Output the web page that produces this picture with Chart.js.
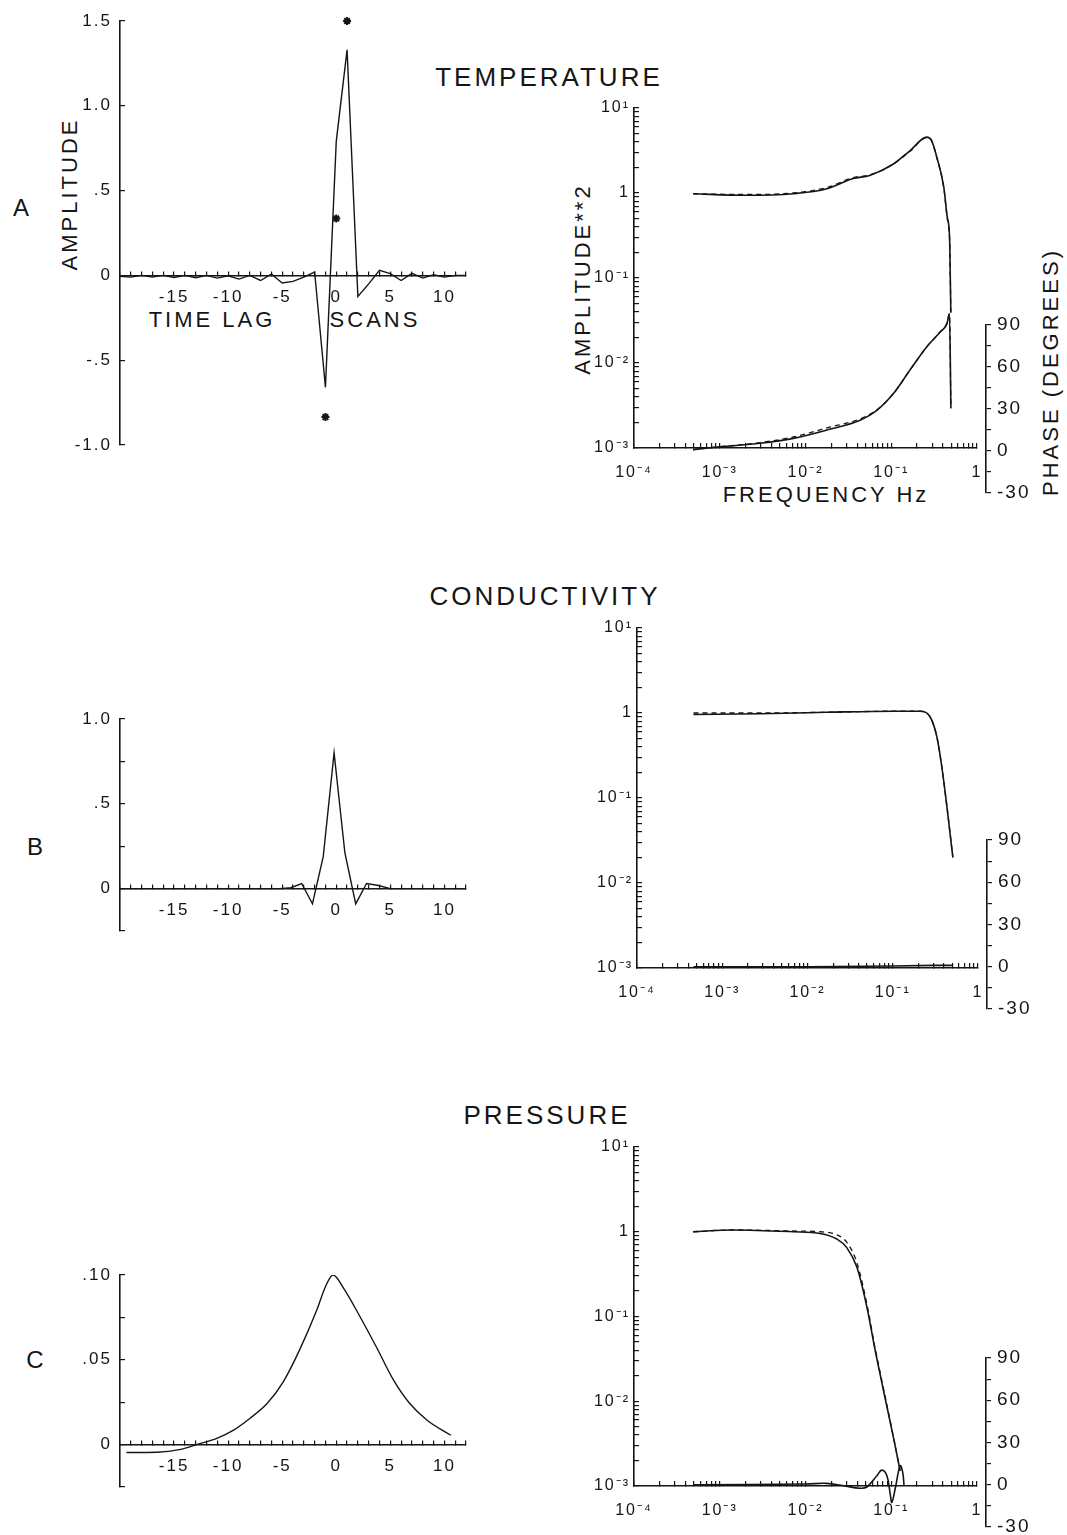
<!DOCTYPE html>
<html lang="en">
<head>
<meta charset="UTF-8">
<title>Temperature, conductivity and pressure responses</title>
<script src="https://cdn.jsdelivr.net/npm/chart.js"></script>
<style>
  html, body { margin: 0; padding: 0; background: #fff; }
  body {
    width: 1067px; height: 1535px; position: relative; overflow: hidden;
    font-family: 'Liberation Sans', Arial, sans-serif; color: #151515;
  }
  canvas { position: absolute; }
  .lbl { position: absolute; white-space: nowrap; line-height: 1; letter-spacing: 3px; }
  .title { font-size: 26px; transform: translate(-50%, -50%); }
  .axt { font-size: 22px; transform: translate(-50%, -50%); }
  .rot { transform: translate(-50%, -50%) rotate(-90deg); }
  .panel { font-size: 24px; transform: translate(-50%, -50%); letter-spacing: 0; }
</style>
</head>
<body>

<div class="lbl title" style="left:549px; top:77px">TEMPERATURE</div>
<div class="lbl title" style="left:545px; top:596px">CONDUCTIVITY</div>
<div class="lbl title" style="left:547px; top:1115px">PRESSURE</div>

<div class="lbl panel" style="left:21px; top:208px">A</div>
<div class="lbl panel" style="left:35px; top:847px">B</div>
<div class="lbl panel" style="left:35px; top:1360px">C</div>

<div class="lbl axt rot" style="left:70px; top:194px">AMPLITUDE</div>
<div class="lbl axt" style="left:212px; top:320px">TIME LAG</div>
<div class="lbl axt" style="left:375px; top:320px">SCANS</div>
<div class="lbl axt rot" style="left:583px; top:279px">AMPLITUDE**2</div>
<div class="lbl axt" style="left:826px; top:495px">FREQUENCY Hz</div>
<div class="lbl axt rot" style="left:1051px; top:372px">PHASE (DEGREES)</div>

<canvas id="lagA"></canvas>
<canvas id="lagB"></canvas>
<canvas id="lagC"></canvas>
<canvas id="ampA"></canvas>
<canvas id="ampB"></canvas>
<canvas id="ampC"></canvas>
<canvas id="phaseA"></canvas>
<canvas id="phaseB"></canvas>
<canvas id="phaseC"></canvas>

<script>
// ---- time-lag filters (left column) ----
const lagTicks = [-15, -10, -5, 0, 5, 10];
const lagLabels = ['-15', '-10', '-5', '0', '5', '10'];

const tempLag = [-20, -19, -18, -17, -16, -15, -14, -13, -12, -11, -10, -9, -8, -7, -6, -5, -4, -3, -2, -1, 0, 1, 2, 3, 4, 5, 6, 7, 8, 9, 10, 11, 12];
const tempWeight = [-0.005, -0.01, 0, -0.01, 0, -0.012, 0, -0.014, 0, -0.016, -0.002, -0.022, 0, -0.03, 0.008, -0.045, -0.035, -0.01, 0.02, -0.66, 0.79, 1.33, -0.124, -0.05, 0.03, 0.01, -0.03, 0.012, -0.016, 0.004, -0.01, 0, 0];
const tempStarLag = [-1, 0, 1];
const tempStarWeight = [-0.835, 0.335, 1.5];
const tempYTicks = [-1, -0.5, 0, 0.5, 1, 1.5];
const tempYLabels = ['-1.0', '-.5', '0', '.5', '1.0', '1.5'];

const condLag = [-20, -5.2, -4.2, -3.2, -2.2, -1.2, -0.2, 0.8, 1.8, 2.8, 3.8, 5, 12];
const condWeight = [0, 0, 0.005, 0.03, -0.09, 0.19, 0.8, 0.21, -0.09, 0.03, 0.02, 0, 0];
const condYTicks = [0, 0.5, 1];
const condYLabels = ['0', '.5', '1.0'];

const presLag = [-19.4, -16.6, -14.5, -12.6, -11.1, -9.5, -8.0, -6.4, -4.9, -3.4, -1.8, -1.0, -0.3, 0.7, 2.2, 3.7, 5.3, 6.8, 8.4, 10.6];
const presWeight = [-0.0047, -0.0045, -0.003, 0.0006, 0.0035, 0.0085, 0.0154, 0.0242, 0.037, 0.0557, 0.0793, 0.0931, 0.1, 0.092, 0.0754, 0.0577, 0.038, 0.0242, 0.0144, 0.0055];
const presYTicks = [0, 0.05, 0.1];
const presYLabels = ['0', '.05', '.10'];

// ---- spectra (right column) ----
const freqTicks = [1e-4, 1e-3, 1e-2, 1e-1, 1];
const freqLabels = ['10⁻⁴', '10⁻³', '10⁻²', '10⁻¹', '1'];
const ampTicks = [1e-3, 1e-2, 1e-1, 1, 10];
const ampLabels = ['10⁻³', '10⁻²', '10⁻¹', '1', '10¹'];
const phaseTicks = [-30, 0, 30, 60, 90];
const phaseLabels = ['-30', '0', '30', '60', '90'];

const tempFreq = [0.00049, 0.0019, 0.0072, 0.0178, 0.036, 0.056, 0.107, 0.166, 0.26, 0.295, 0.34, 0.41, 0.45, 0.48, 0.495];
const tempAmp = [0.98, 0.94, 0.98, 1.12, 1.48, 1.61, 2.21, 3.16, 4.54, 4.15, 2.63, 1.17, 0.52, 0.28, 0.039];
const tempAmpModel = [0.98, 0.96, 1.0, 1.16, 1.52, 1.63, 2.2, 3.1, 4.5, 4.1, 2.6, 1.15, 0.5, 0.27, 0.04];
const tempPhaseFreq = [0.00049, 0.001, 0.00295, 0.0072, 0.0177, 0.0434, 0.068, 0.106, 0.166, 0.26, 0.372, 0.446, 0.478, 0.496];
const tempPhase = [1, 3, 5.5, 9, 15, 22, 29, 41, 58, 74.5, 85, 91, 98, 30.5];
const tempPhaseModel = [1, 3, 6, 10, 16.5, 23, 29.5, 41, 58, 74.5, 85, 91, 98, 30.5];

const condFreq = [0.00046, 0.00278, 0.0169, 0.102, 0.21, 0.251, 0.288, 0.33, 0.377, 0.432, 0.507];
const condAmp = [0.96, 0.98, 1.02, 1.05, 1.05, 1.0, 0.82, 0.52, 0.23, 0.079, 0.02];
const condAmpModel = [1.0, 1.0, 1.02, 1.05, 1.05, 1.0, 0.82, 0.52, 0.23, 0.079, 0.02];
const condPhaseFreq = [0.00046, 0.01, 0.1, 0.3, 0.507];
const condPhase = [0, 0, 0.5, 1, 1];

const presFreq = [0.00049, 0.00144, 0.0072, 0.0148, 0.0232, 0.0303, 0.0398, 0.052, 0.0649, 0.0813, 0.106, 0.127];
const presAmp = [1.0, 1.05, 1.0, 0.955, 0.82, 0.65, 0.38, 0.129, 0.04, 0.0133, 0.00375, 0.00151];
const presAmpModel = [1.0, 1.05, 1.02, 1.0, 0.92, 0.75, 0.43, 0.14, 0.042, 0.014, 0.0038, 0.0015];
const presPhaseFreq = [0.00049, 0.01, 0.0177, 0.0278, 0.0434, 0.052, 0.068, 0.0776, 0.089, 0.0973, 0.1016, 0.111, 0.127, 0.136, 0.141];
const presPhase = [0, 0.5, 1, -0.7, -2.5, -1.6, 6.4, 10.4, 6.4, -6.6, -12.5, -3, 13.5, 8.8, -0.7];

const ink = '#151515';
const family = "'Liberation Sans', Arial, sans-serif";
Chart.defaults.font.family = family;
Chart.defaults.color = ink;

// wider letter spacing, like the plotter lettering
const spacing = { id: 'spacing', beforeDraw(c) { c.ctx.letterSpacing = '2px'; } };

function xy(xs, ys) {
  return xs.map((x, i) => ({ x: x, y: ys[i] }));
}

function labelFrom(ticks, labels) {
  return v => {
    const i = ticks.findIndex(t => Math.abs(t - v) <= 1e-6 * Math.max(Math.abs(t), 1e-3));
    return i < 0 ? '' : labels[i];
  };
}

function decadeTicks(min, max) {
  const out = [];
  for (let e = Math.round(Math.log10(min)); e < Math.round(Math.log10(max)); e++) {
    for (let k = 1; k < 10; k++) out.push({ value: Number((k * Math.pow(10, e)).toPrecision(6)) });
  }
  out.push({ value: max });
  return out;
}

function place(id, left, top, width, height) {
  const cv = document.getElementById(id);
  cv.width = Math.round(width);
  cv.height = Math.round(height);
  cv.style.left = Math.round(left) + 'px';
  cv.style.top = Math.round(top) + 'px';
  cv.style.width = Math.round(width) + 'px';
  cv.style.height = Math.round(height) + 'px';
  return cv;
}

function line(data, opts) {
  return Object.assign({
    data: data, borderColor: ink, borderWidth: 1.6, pointRadius: 0,
    fill: false, tension: 0
  }, opts || {});
}

const axisBorder = { color: ink, width: 1.6 };

// margins are kept larger than the label padding Chart.js asks for,
// so the plot box lands exactly on the given area
function lagChart(id, area, yMin, yMax, yTicks, yLabels, datasets) {
  const m = { l: 62, t: 28, r: 26, b: 28 };
  const cv = place(id, area.left - m.l, area.top - m.t,
    area.right - area.left + m.l + m.r, area.bottom - area.top + m.t + m.b);
  return new Chart(cv, {
    type: 'line',
    data: { datasets: datasets },
    plugins: [spacing],
    options: {
      responsive: false,
      animation: false,
      layout: { padding: { left: 0, top: m.t, right: m.r, bottom: m.b } },
      plugins: { legend: { display: false }, tooltip: { enabled: false } },
      scales: {
        x: {
          type: 'linear', min: -20, max: 12, position: { y: 0 },
          grid: { drawOnChartArea: false, tickLength: -5, color: ink, lineWidth: 1.2 },
          border: axisBorder,
          ticks: {
            stepSize: 1, autoSkip: false, maxRotation: 0, padding: 17,
            font: { size: 17 }, color: ink, callback: labelFrom(lagTicks, lagLabels)
          },
          afterFit: s => { s.height = 0; }
        },
        y: {
          type: 'linear', min: yMin, max: yMax,
          grid: { drawOnChartArea: false, tickLength: -5, color: ink, lineWidth: 1.2 },
          border: axisBorder,
          ticks: {
            stepSize: (yMax - yMin) / 5, autoSkip: false, padding: 13,
            font: { size: 17 }, color: ink, callback: labelFrom(yTicks, yLabels)
          },
          afterFit: s => { s.width = m.l; }
        }
      }
    }
  });
}

function ampChart(id, area, datasets) {
  const m = { l: 60, t: 26, r: 30, b: 46 };
  const cv = place(id, area.left - m.l, area.top - m.t,
    area.right - area.left + m.l + m.r, area.bottom - area.top + m.t + m.b);
  return new Chart(cv, {
    type: 'line',
    data: { datasets: datasets },
    plugins: [spacing],
    options: {
      responsive: false,
      animation: false,
      layout: { padding: { left: 0, top: m.t, right: m.r, bottom: 0 } },
      plugins: { legend: { display: false }, tooltip: { enabled: false } },
      scales: {
        x: {
          type: 'logarithmic', min: 1e-4, max: 1, position: 'bottom',
          grid: { drawOnChartArea: false, tickLength: -5, color: ink, lineWidth: 1.2 },
          border: axisBorder,
          afterBuildTicks: s => { s.ticks = decadeTicks(1e-4, 1); },
          ticks: {
            autoSkip: false, maxRotation: 0, padding: 20,
            font: { size: 16 }, color: ink, callback: labelFrom(freqTicks, freqLabels)
          },
          afterFit: s => { s.height = m.b; }
        },
        y: {
          type: 'logarithmic', min: 1e-3, max: 10,
          grid: { drawOnChartArea: false, tickLength: -5, color: ink, lineWidth: 1.2 },
          border: axisBorder,
          afterBuildTicks: s => { s.ticks = decadeTicks(1e-3, 10); },
          ticks: {
            autoSkip: false, padding: 9,
            font: { size: 16 }, color: ink, callback: labelFrom(ampTicks, ampLabels)
          },
          afterFit: s => { s.width = m.l; }
        }
      }
    }
  });
}

function phaseChart(id, area, axisX, y90, yMinus30, datasets) {
  const m = { t: 22, b: 22, r: 52 };
  const cv = place(id, area.left, y90 - m.t, axisX - area.left + m.r, yMinus30 - y90 + m.t + m.b);
  // same log frequency mapping as the amplitude box, axis line sits a little right of it
  const xMax = Math.pow(10, -4 + 4 * (axisX - area.left) / (area.right - area.left));
  return new Chart(cv, {
    type: 'line',
    data: { datasets: datasets },
    plugins: [spacing],
    options: {
      responsive: false,
      animation: false,
      layout: { padding: { left: 0, top: m.t, right: 0, bottom: m.b } },
      plugins: { legend: { display: false }, tooltip: { enabled: false } },
      scales: {
        x: { type: 'logarithmic', display: false, min: 1e-4, max: xMax },
        y: {
          type: 'linear', position: 'right', min: -30, max: 90,
          grid: { drawOnChartArea: false, tickLength: 5, color: ink, lineWidth: 1.2 },
          border: axisBorder,
          ticks: {
            stepSize: 15, autoSkip: false, padding: 6,
            font: { size: 19 }, color: ink, callback: labelFrom(phaseTicks, phaseLabels)
          },
          afterFit: s => { s.width = m.r; }
        }
      }
    }
  });
}

// left column
lagChart('lagA', { left: 120, right: 466, top: 21, bottom: 445 }, -1, 1.5, tempYTicks, tempYLabels, [
  line(xy(tempLag, tempWeight), { borderWidth: 1.4 }),
  line(xy(tempStarLag, tempStarWeight), {
    showLine: false, pointStyle: 'star', pointRadius: 4, borderWidth: 2, pointBorderColor: ink, clip: false
  })
]);
lagChart('lagB', { left: 120, right: 466, top: 719, bottom: 931 }, -0.25, 1.0, condYTicks, condYLabels, [
  line(xy(condLag, condWeight), { borderWidth: 1.4 })
]);
lagChart('lagC', { left: 120, right: 466, top: 1275, bottom: 1487 }, -0.025, 0.1, presYTicks, presYLabels, [
  line(xy(presLag, presWeight), { borderWidth: 1.4, cubicInterpolationMode: 'monotone' })
]);

// right column: amplitude squared
const boxA = { left: 634, right: 977, top: 108, bottom: 448 };
const boxB = { left: 637, right: 978, top: 628, bottom: 968 };
const boxC = { left: 634, right: 977, top: 1147, bottom: 1486 };

ampChart('ampA', boxA, [
  line(xy(tempFreq, tempAmpModel), { borderDash: [5, 4], borderWidth: 1.3, cubicInterpolationMode: 'monotone' }),
  line(xy(tempFreq, tempAmp), { cubicInterpolationMode: 'monotone' })
]);
ampChart('ampB', boxB, [
  line(xy(condFreq, condAmpModel), { borderDash: [5, 4], borderWidth: 1.3, cubicInterpolationMode: 'monotone' }),
  line(xy(condFreq, condAmp), { cubicInterpolationMode: 'monotone' })
]);
ampChart('ampC', boxC, [
  line(xy(presFreq, presAmpModel), { borderDash: [5, 4], borderWidth: 1.3, cubicInterpolationMode: 'monotone' }),
  line(xy(presFreq, presAmp), { cubicInterpolationMode: 'monotone' })
]);

// right column: phase
phaseChart('phaseA', boxA, 986, 325, 493, [
  line(xy(tempPhaseFreq, tempPhaseModel), { borderDash: [5, 4], borderWidth: 1.3, clip: false, cubicInterpolationMode: 'monotone' }),
  line(xy(tempPhaseFreq, tempPhase), { clip: false, cubicInterpolationMode: 'monotone' })
]);
phaseChart('phaseB', boxB, 987, 840, 1009, [
  line(xy(condPhaseFreq, condPhase), { clip: false })
]);
phaseChart('phaseC', boxC, 986, 1358, 1527, [
  line(xy(presPhaseFreq, presPhase), { clip: false, tension: 0.4 })
]);
</script>
</body>
</html>
